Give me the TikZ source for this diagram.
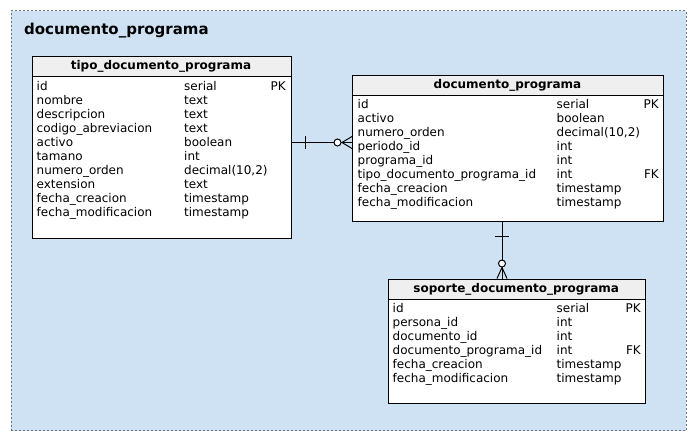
\documentclass[tikz,border=0pt]{standalone}
\usepackage{fontspec}
\setmainfont{DejaVu Sans}
\definecolor{bgblue}{HTML}{CFE2F3}
\definecolor{framegrey}{HTML}{6B7785}
\definecolor{headgrey}{HTML}{EFEFEF}
\tikzset{
  tbody/.style={draw=black, line width=1.2pt, fill=white, anchor=north west, inner sep=0pt},
  thead/.style={draw=black, line width=1.2pt, fill=headgrey, anchor=north west, inner sep=0pt},
  htext/.style={anchor=base, inner sep=0pt, font=\fontsize{12}{14}\selectfont\bfseries},
  rtext/.style={anchor=base west, inner sep=0pt, font=\fontsize{12}{14}\selectfont},
  ktext/.style={anchor=base east, inner sep=0pt, font=\fontsize{12}{14}\selectfont},
  conn/.style={draw=black, line width=1pt},
  ocircle/.style={draw=black, line width=1pt, fill=white},
}
\begin{document}
\begin{tikzpicture}[x=1pt, y=-1pt]
\useasboundingbox (0,0) rectangle (695,440);
% outer package frame
\node[draw=framegrey, fill=bgblue, line width=1pt, dash pattern=on 2pt off 2pt,
      anchor=north west, minimum width=675pt, minimum height=420pt, inner sep=0pt] (pkg) at (10.5,10) {};
\node[anchor=base west, inner sep=0pt, font=\fontsize{15}{18}\selectfont\bfseries] (pkgtitle) at (24,34.5) {documento\_programa};

% ---------- table 1 ----------
\node[tbody, minimum width=259pt, minimum height=182pt] (t1) at (31.5,55.5) {};
\node[thead, minimum width=259pt, minimum height=20pt] (t1h) at (31.5,55.5) {};
\node[htext] (t1t) at (161,69.5) {tipo\_documento\_programa};
\foreach \n/\t/\k [count=\i from 0] in {id/serial/PK, nombre/text/, descripcion/text/, codigo\_abreviacion/text/, activo/boolean/, tamano/int/, numero\_orden/decimal(10{,}2)/, extension/text/, fecha\_creacion/timestamp/, fecha\_modificacion/timestamp/}{
  \node[rtext] (t1n\i) at (36.5,90+14*\i) {\n};
  \node[rtext] (t1y\i) at (184,90+14*\i) {\t};
  \node[ktext] (t1k\i) at (286,90+14*\i) {\k};
}

% ---------- table 2 ----------
\node[tbody, minimum width=310.5pt, minimum height=146.5pt] (t2) at (352,74.5) {};
\node[thead, minimum width=310.5pt, minimum height=20pt] (t2h) at (352,74.5) {};
\node[htext] (t2t) at (507.5,88.5) {documento\_programa};
\foreach \n/\t/\k [count=\i from 0] in {id/serial/PK, activo/boolean/, numero\_orden/decimal(10{,}2)/, periodo\_id/int/, programa\_id/int/, tipo\_documento\_programa\_id/int/FK, fecha\_creacion/timestamp/, fecha\_modificacion/timestamp/}{
  \node[rtext] (t2n\i) at (357.5,108.5+14*\i) {\n};
  \node[rtext] (t2y\i) at (556.5,108.5+14*\i) {\t};
  \node[ktext] (t2k\i) at (659,108.5+14*\i) {\k};
}

% ---------- table 3 ----------
\node[tbody, minimum width=257.5pt, minimum height=124pt] (t3) at (387.5,278.5) {};
\node[thead, minimum width=257.5pt, minimum height=20pt] (t3h) at (387.5,278.5) {};
\node[htext] (t3t) at (516.25,292.5) {soporte\_documento\_programa};
\foreach \n/\t/\k [count=\i from 0] in {id/serial/PK, persona\_id/int/, documento\_id/int/, documento\_programa\_id/int/FK, fecha\_creacion/timestamp/, fecha\_modificacion/timestamp/}{
  \node[rtext] (t3n\i) at (392.5,312.5+14*\i) {\n};
  \node[rtext] (t3y\i) at (556.5,312.5+14*\i) {\t};
  \node[ktext] (t3k\i) at (641,312.5+14*\i) {\k};
}

% ---------- connector 1: t1 (one) -- t2 (zero or many) ----------
\coordinate (r1) at (0,142.5);
\coordinate (a1) at (t1.east |- r1);
\coordinate (b1) at (t2.west |- r1);
\draw[conn] (a1) -- (b1);
\draw[conn] ([xshift=14pt]a1) ++(0,-6.5) -- ++(0,13);
\draw[conn] ([xshift=-10pt]b1) -- ([yshift=6pt]b1);
\draw[conn] ([xshift=-10pt]b1) -- ([yshift=-6pt]b1);
\draw[ocircle] ([xshift=-14.5pt]b1) circle (3.5pt);

% ---------- connector 2: t2 (one) -- t3 (zero or many) ----------
\coordinate (c2) at (502,0);
\coordinate (a2) at (t2.south -| c2);
\coordinate (b2) at (t3.north -| c2);
\draw[conn] (a2) -- (b2);
\draw[conn] ([yshift=-14.5pt]a2) ++(-7,0) -- ++(14,0);
\draw[conn] ([yshift=11pt]b2) -- ([xshift=-5pt]b2);
\draw[conn] ([yshift=11pt]b2) -- ([xshift=5pt]b2);
\draw[ocircle] ([yshift=15pt]b2) circle (3.5pt);
\end{tikzpicture}
\end{document}
